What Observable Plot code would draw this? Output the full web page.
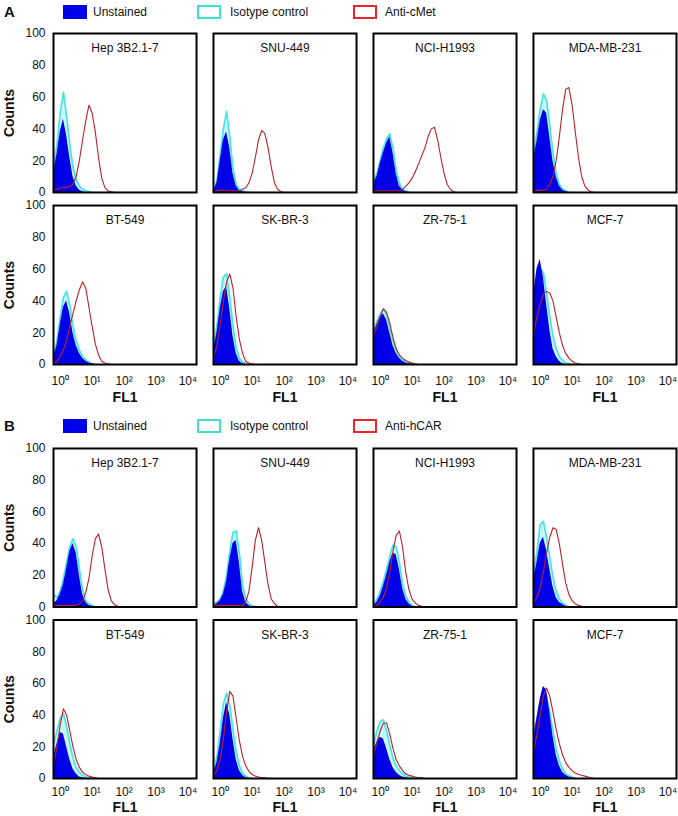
<!DOCTYPE html>
<html>
<head>
<meta charset="utf-8">
<script src="https://cdn.jsdelivr.net/npm/d3@7"></script>
<script src="https://cdn.jsdelivr.net/npm/@observablehq/plot@0.6"></script>
<style>
  html, body { margin: 0; padding: 0; background: #fff; overflow: hidden; }
  #root { position: relative; width: 678px; height: 816px; font-family: "Liberation Sans", Arial, sans-serif; color: #111; }
  .sec { position: absolute; left: 0; }
  .leg { position: absolute; left: 0; width: 678px; height: 20px; }
  .leg .letter { position: absolute; left: 4px; top: 1px; font-weight: bold; font-size: 15px; line-height: 18px; }
  .leg .sw { position: absolute; top: 3px; width: 24px; height: 14px; box-sizing: border-box; }
  .leg .lab { position: absolute; top: 2px; font-size: 12px; line-height: 16px; }
</style>
</head>
<body>
<div id="root"></div>
<script>
// ---------------- data ----------------
const cellLines = ["Hep 3B2.1-7", "SNU-449", "NCI-H1993", "MDA-MB-231", "BT-549", "SK-BR-3", "ZR-75-1", "MCF-7"];
// FL1 bins (log10 of fluorescence)
const fl1Log = [-0.2,-0.1,0,0.1,0.2,0.3,0.4,0.5,0.6,0.7,0.8,0.9,1.0,1.1,1.2,1.3,1.4,1.5,1.6,1.7,1.8,1.9,2.0,2.1,2.2,2.3,2.4,2.5];
const xTicks = [1, 10, 100, 1000, 10000];
const xTickLabels = ["10\u2070", "10\u00B9", "10\u00B2", "10\u00B3", "10\u2074"];
const yTicks = [0, 20, 40, 60, 80, 100];

// Panel A (anti-cMet)
const unstainedA = [
  [14,24,38,46,36,22,10,4,1.5,0.5,0],
  [1,6,20,33,38,28,12,4,1,0.5,0],
  [6,10,18,25,31,35,25,12,4,1.5,0.5,0],
  [22,32,45,52,50,35,20,10,4,1.5,0.5,0],
  [5,12,25,36,40,32,20,12,7,4,2,1,0.5,0],
  [10,20,35,46,49,35,18,7,2,0.5,0],
  [20,25,30,32,28,20,12,7,4,2,1,0.5,0],
  [45,60,66,55,38,22,10,5,2,0.5,0]
];
const isotypeA = [
  [18,30,50,63,48,30,16,8,4,2,1,0.5,0],
  [1,8,24,40,51,35,15,5,2,1,0.5,0],
  [8,12,20,28,34,37,28,14,6,2,1,0],
  [25,38,52,62,58,42,25,12,5,2,1,0],
  [7,15,30,42,46,37,24,15,9,5,3,1.5,0.5,0],
  [12,25,42,55,57,42,24,11,4,1.5,0.5,0],
  [22,27,32,35,31,23,15,9,5,3,1.5,1,0.5,0],
  [40,52,60,58,45,30,18,10,5,2.5,1,0.5,0]
];
const antiCMet = [
  [2,2,3,3,3,4,5,10,20,33,45,55,50,38,22,9,3,1,0.5,0],
  [1,1,1.5,1.5,1,1,1,1,1,2,3,6,12,22,33,39,37,28,16,6,2,0.5,0],
  [1,1,1,1,1,1,1,1,1,2,4,6,9,13,18,23,28,35,40,41,33,22,12,5,2,0.5,0],
  [1,1,1.5,1.5,2,5,10,20,35,52,65,66,55,38,22,10,4,1.5,0.5,0],
  [1,2,5,9,15,24,32,40,47,52,48,36,24,13,6,2,1,0.5,0],
  [5,12,25,40,52,57,48,30,16,7,2,1,0.5,0],
  [18,24,30,35,33,26,17,10,6,4,2.5,1.5,1,0.5,0],
  [20,30,38,44,46,45,40,30,20,12,7,4,2,1,0.5,0]
];

// Panel B (anti-hCAR)
const unstainedB = [
  [2,4,8,14,24,35,40,34,20,8,3,1,0.5,0],
  [1,2,4,8,16,30,40,42,28,10,3,1,0],
  [1,3,7,13,20,28,34,33,24,12,5,2,0.5,0],
  [18,28,40,44,36,24,13,6,3,1.5,0.5,0],
  [14,22,29,28,20,12,6,3,1,0.5,0],
  [4,10,22,38,48,40,25,12,5,2,0.5,0],
  [18,23,26,25,19,12,7,4,2,1,0.5,0],
  [26,38,50,58,56,42,27,15,8,4,2,1,0.5,0]
];
const isotypeB = [
  [8,6,10,18,28,38,43,38,24,11,4,2,1,0],
  [2,3,5,10,20,35,47,48,34,14,5,2,1,0],
  [2,5,10,16,24,32,39,38,28,15,7,3,1,0],
  [22,35,52,54,44,31,19,10,5,2.5,1,0],
  [22,30,38,41,33,22,13,7,4,2,1,0.5,0],
  [6,14,30,47,54,46,31,17,8,3.5,1.5,0.5,0],
  [22,30,36,37,30,21,13,8,5,3,1.5,1,0.5,0],
  [28,38,48,54,52,42,30,19,11,6,3,1.5,1,0]
];
const antiHCAR = [
  [1,1,1,1,1,1,1,1,2,4,9,18,32,43,46,38,24,11,4,1.5,0.5,0],
  [1,1,1,1,1,1,1,1,1,1,3,10,25,42,50,42,28,14,5,2,0.5,0],
  [0.5,1,3,6,12,22,35,45,48,38,22,11,5,2.5,1,0.5,0],
  [3,6,12,22,34,44,50,49,40,27,15,8,4,2,1,0.5,0],
  [10,20,34,44,40,30,20,12,7,4,2.5,1.5,1,0.5,0],
  [2,5,12,25,42,55,52,38,24,14,8,4.5,2.5,1.5,1,0.5,0.5,0],
  [15,23,30,35,35,28,19,12,8,5,3,2,1.5,1,0.5,0.5,0],
  [18,28,40,52,57,52,42,31,22,15,10,7,5,3.5,2.5,2,1.5,1,0.5,0]
];

// ---------------- drawing ----------------
const FONT = '"Liberation Sans", Arial, sans-serif';
const BLUE = "#0000e8", CYAN = "#48e4e6", CYAN_LEG = "#40e0d0", RED = "#b8232a", RED_LEG = "#e8262c";

function toRows(arrs) {
  const out = [];
  arrs.forEach((arr, i) => {
    arr.forEach((v, j) => out.push({col: i % 4, row: Math.floor(i / 4), x: Math.pow(10, fl1Log[j]), count: v}));
  });
  return out;
}

function section(unst, iso, anti, o) {
  const U = toRows(unst), I = toRows(iso), R = toRows(anti);
  const cells = cellLines.map((name, i) => ({name, col: i % 4, row: Math.floor(i / 4)}));
  const leftCells = [{col: 0, row: 0}, {col: 0, row: 1}];
  const bottomCells = [0, 1, 2, 3].map(c => ({col: c, row: 1}));
  const f = {fx: "col", fy: "row", x: "x", y: "count"};
  return Plot.plot({
    width: 678,
    height: o.height,
    marginTop: o.marginTop,
    marginBottom: o.marginBottom,
    marginLeft: 53,
    marginRight: 2,
    style: {fontFamily: FONT, fontSize: "12px", color: "#111", background: "transparent", overflow: "visible"},
    x: {type: "log", domain: [Math.pow(10, -0.21), Math.pow(10, 4.27)], ticks: xTicks,
        tickFormat: d => xTickLabels[xTicks.indexOf(d)], tickSize: 0, tickPadding: o.xPad, label: null},
    y: {domain: [0, 100], ticks: yTicks, tickSize: 0, tickPadding: 8, label: null},
    fx: {domain: [0, 1, 2, 3], paddingInner: 0.106, paddingOuter: 0, axis: null, round: false},
    fy: {domain: [0, 1], paddingInner: 0.076, paddingOuter: 0, axis: null, round: false},
    marks: [
      Plot.areaY(I, {...f, fill: CYAN, fillOpacity: 0.3}),
      Plot.lineY(I, {...f, stroke: CYAN, strokeWidth: 1.7}),
      Plot.areaY(U, {...f, fill: BLUE}),
      Plot.lineY(R, {...f, stroke: RED, strokeWidth: 1.1}),
      Plot.frame({stroke: "#000", strokeWidth: 2}),
      Plot.text(cells, {fx: "col", fy: "row", text: "name", frameAnchor: "top", dy: 15, lineAnchor: "middle", fontSize: 12}),
      Plot.text(leftCells, {fx: "col", fy: "row", text: () => "Counts", frameAnchor: "left", dx: -44, rotate: -90,
        textAnchor: "middle", lineAnchor: "middle", fontSize: 14, fontWeight: "bold"}),
      Plot.text(bottomCells, {fx: "col", fy: "row", text: () => "FL1", frameAnchor: "bottom", dy: o.fl1Dy,
        textAnchor: "middle", lineAnchor: "middle", fontSize: 14, fontWeight: "bold"})
    ]
  });
}

function legend(letter, antiName, top) {
  const d = document.createElement("div");
  d.className = "leg";
  d.style.top = top + "px";
  d.innerHTML =
    `<span class="letter">${letter}</span>` +
    `<span class="sw" style="left:63px;background:${BLUE};"></span><span class="lab" style="left:93px;">Unstained</span>` +
    `<span class="sw" style="left:197px;border:2.5px solid ${CYAN_LEG};background:#fff;"></span><span class="lab" style="left:230px;">Isotype control</span>` +
    `<span class="sw" style="left:353px;border:2.5px solid ${RED_LEG};background:#fff;"></span><span class="lab" style="left:385px;">${antiName}</span>`;
  return d;
}

const root = document.getElementById("root");

const secA = document.createElement("div");
secA.className = "sec"; secA.style.top = "0px";
secA.appendChild(section(unstainedA, isotypeA, antiCMet, {height: 405, marginTop: 33, marginBottom: 41, xPad: 12, fl1Dy: 33}));
root.appendChild(secA);
root.appendChild(legend("A", "Anti-cMet", 2));

const secB = document.createElement("div");
secB.className = "sec"; secB.style.top = "413px";
secB.appendChild(section(unstainedB, isotypeB, antiHCAR, {height: 403, marginTop: 35, marginBottom: 38, xPad: 9, fl1Dy: 29}));
root.appendChild(secB);
root.appendChild(legend("B", "Anti-hCAR", 416));
</script>
</body>
</html>
